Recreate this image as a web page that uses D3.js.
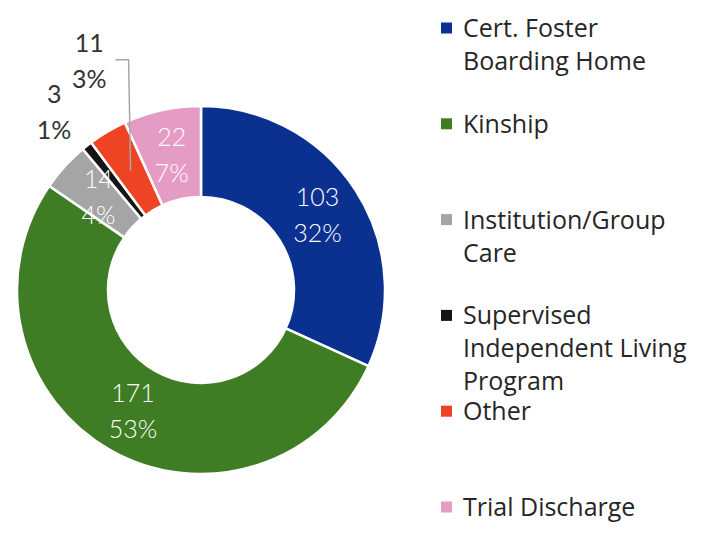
<!DOCTYPE html>
<html>
<head>
<meta charset="utf-8">
<script src="https://cdn.jsdelivr.net/npm/d3@7"></script>
<style>
  body { margin: 0; background: #fff; }
  text { font-family: Lato, "Open Sans", sans-serif; }
  .legend text { font-family: "Open Sans", sans-serif; }
</style>
</head>
<body>
<svg id="chart"></svg>
<script>
// placement counts by type
const categories = ["Cert. Foster Boarding Home", "Kinship", "Institution/Group Care",
                    "Supervised Independent Living Program", "Other", "Trial Discharge"];
const counts = [103, 171, 14, 3, 11, 22];
const percents = ["32%", "53%", "4%", "1%", "3%", "7%"];
// legend text broken into lines like the original
const legendLines = [
  ["Cert. Foster", "Boarding Home"],
  ["Kinship"],
  ["Institution/Group", "Care"],
  ["Supervised", "Independent Living", "Program"],
  ["Other"],
  ["Trial Discharge"]
];
const colors = ["#0b3190", "#3e7d23", "#a5a5a5", "#151515", "#ee4423", "#e59cc4"];

const width = 712, height = 556;
const cx = 201, cy = 290;
const outerR = 184, innerR = 93;

const svg = d3.select("#chart")
    .attr("width", width)
    .attr("height", height);

const color = d3.scaleOrdinal()
    .domain(categories)
    .range(colors);

const data = categories.map((c, i) => ({ name: c, value: counts[i], pct: percents[i] }));

const pie = d3.pie()
    .value(d => d.value)
    .sort(null);

const arc = d3.arc()
    .innerRadius(innerR)
    .outerRadius(outerR);

const arcs = pie(data);

const g = svg.append("g")
    .attr("transform", `translate(${cx},${cy})`);

g.selectAll("path")
    .data(arcs)
    .join("path")
      .attr("d", arc)
      .attr("fill", d => color(d.data.name))
      .attr("stroke", "#fff")
      .attr("stroke-width", 2.5);

// labels inside the bigger slices
const inside = arcs.filter(d => d.data.value > 12);
const inLabels = g.selectAll(".inlab")
    .data(inside)
    .join("text")
      .attr("class", "inlab")
      .attr("text-anchor", "middle")
      .attr("fill", "#fff")
      .style("font-size", "25px")
      .style("font-weight", 300)
      .attr("transform", d => `translate(${arc.centroid(d)})`);
inLabels.append("tspan").attr("x", 0).attr("y", -9).text(d => d.data.value);
inLabels.append("tspan").attr("x", 0).attr("y", 27).text(d => d.data.pct);

// small slices get labels outside; "Other" was moved up with a leader line
const outside = arcs.filter(d => d.data.value <= 12);
const outPos = d => {
  const mid = (d.startAngle + d.endAngle) / 2;
  const moved = d.data.name === "Other";
  const a = moved ? mid + 0.08 : mid - 0.02;
  const r = moved ? 255 : 231;
  return [r * Math.sin(a), -r * Math.cos(a)];
};

g.selectAll(".leader")
    .data(outside.filter(d => d.data.name === "Other"))
    .join("polyline")
      .attr("class", "leader")
      .attr("fill", "none")
      .attr("stroke", "#a6a6a6")
      .attr("stroke-width", 1.5)
      .attr("points", d => {
        const p = outPos(d), c = arc.centroid(d);
        const y = p[1] - 1;
        return [[p[0] + 26, y], [c[0] - 2, y], c].join(" ");
      });

const outLabels = g.selectAll(".outlab")
    .data(outside)
    .join("text")
      .attr("class", "outlab")
      .attr("text-anchor", "middle")
      .attr("fill", "#333")
      .style("font-size", "25px")
      .attr("transform", d => `translate(${outPos(d)})`);
outLabels.append("tspan").attr("x", 0).attr("y", -9).text(d => d.data.value);
outLabels.append("tspan").attr("x", 0).attr("y", 27).text(d => d.data.pct);

// legend
const legendY = d3.scalePoint()
    .domain(categories)
    .range([28, 507]);

const legend = svg.append("g")
    .attr("class", "legend")
    .selectAll("g")
    .data(categories)
    .join("g")
      .attr("transform", d => `translate(441,${legendY(d)})`);

legend.append("rect")
    .attr("x", 0)
    .attr("y", -5.5)
    .attr("width", 11)
    .attr("height", 11)
    .attr("fill", d => color(d));

legend.append("text")
    .attr("fill", "#262626")
    .style("font-size", "25px")
    .selectAll("tspan")
    .data((d, i) => legendLines[i])
    .join("tspan")
      .attr("x", 22)
      .attr("y", (d, i) => 9 + i * 33)
      .text(d => d);
</script>
</body>
</html>
